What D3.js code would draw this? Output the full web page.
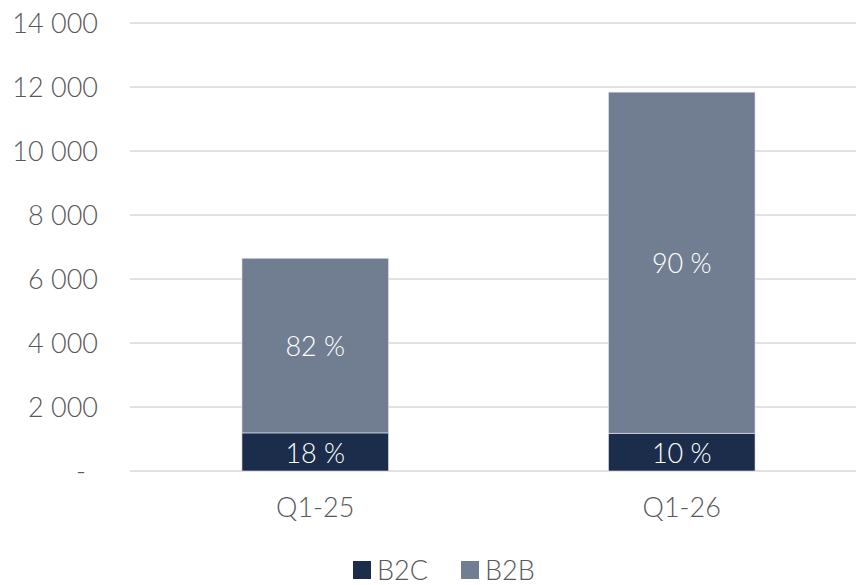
<!DOCTYPE html>
<html>
<head>
<meta charset="utf-8">
<script src="https://cdn.jsdelivr.net/npm/d3@7"></script>
<style>
  body { margin: 0; background: #fff; }
  text { font-family: "Lato", "DejaVu Sans", sans-serif; font-weight: 300; fill: #595959; }
</style>
</head>
<body>
<div id="chart"></div>
<script>
// Data
const quarters = ["Q1-25", "Q1-26"];
const b2c = [1190, 1180];
const b2b = [5460, 10660];
const seriesNames = ["B2C", "B2B"];
const seriesColors = ["#1b2d4b", "#717e92"];
const yTicks = [0, 2000, 4000, 6000, 8000, 10000, 12000, 14000];

const width = 856, height = 585;

const svg = d3.select("#chart")
    .append("svg")
    .attr("width", width)
    .attr("height", height);

// Scales
const x = d3.scaleBand()
    .domain(quarters)
    .range([132, 865])
    .paddingInner(0.6)
    .paddingOuter(0.3);

const y = d3.scaleLinear()
    .domain([0, 14000])
    .range([471, 23]);

// Gridlines
svg.append("g")
    .selectAll("line")
    .data(yTicks)
    .enter().append("line")
    .attr("x1", 130)
    .attr("x2", width)
    .attr("y1", d => y(d))
    .attr("y2", d => y(d))
    .attr("stroke", "#d9d9d9")
    .attr("stroke-width", 1.5);

// Y axis labels
const fmt = d => d === 0 ? "-" : d3.format(",")(d).replace(/,/g, " ");
svg.append("g")
    .selectAll("text")
    .data(yTicks)
    .enter().append("text")
    .attr("x", d => d === 0 ? 86 : 98)
    .attr("y", d => y(d))
    .attr("dy", "0.36em")
    .attr("text-anchor", "end")
    .style("font-size", "27px")
    .text(fmt);

// Stacked bars
const rows = quarters.map((q, i) => ({ q: q, B2C: b2c[i], B2B: b2b[i] }));
const stacked = d3.stack().keys(seriesNames)(rows);

const layers = svg.selectAll(".layer")
    .data(stacked)
    .enter().append("g")
    .attr("class", "layer")
    .attr("fill", (d, i) => seriesColors[i]);

layers.selectAll("rect")
    .data(d => d)
    .enter().append("rect")
    .attr("x", d => x(d.data.q))
    .attr("width", x.bandwidth())
    .attr("y", d => y(d[1]))
    .attr("height", d => y(d[0]) - y(d[1]))
    .attr("stroke", "#e8ebef")
    .attr("stroke-width", 0.6);

// Percent labels
layers.selectAll(".pct")
    .data(d => d.map(p => Object.assign(p, { key: d.key })))
    .enter().append("text")
    .attr("class", "pct")
    .attr("x", d => x(d.data.q) + x.bandwidth() / 2)
    .attr("y", d => (y(d[0]) + y(d[1])) / 2)
    .attr("dy", "0.4em")
    .attr("text-anchor", "middle")
    .style("font-size", "27px")
    .style("fill", "#ffffff")
    .text(d => Math.round(100 * d.data[d.key] / (d.data.B2C + d.data.B2B)) + " %");

// X axis labels
svg.append("g")
    .selectAll("text")
    .data(quarters)
    .enter().append("text")
    .attr("x", d => x(d) + x.bandwidth() / 2)
    .attr("y", 517)
    .attr("text-anchor", "middle")
    .style("font-size", "27px")
    .text(d => d);

// Legend
const legendX = [353, 461];
const legend = svg.selectAll(".legend")
    .data(seriesNames)
    .enter().append("g")
    .attr("class", "legend")
    .attr("transform", (d, i) => "translate(" + legendX[i] + ",561)");

legend.append("rect")
    .attr("width", 18)
    .attr("height", 18)
    .attr("fill", (d, i) => seriesColors[i]);

legend.append("text")
    .attr("x", 24)
    .attr("y", 9)
    .attr("dy", "0.36em")
    .style("font-size", "27px")
    .text(d => d);
</script>
</body>
</html>
